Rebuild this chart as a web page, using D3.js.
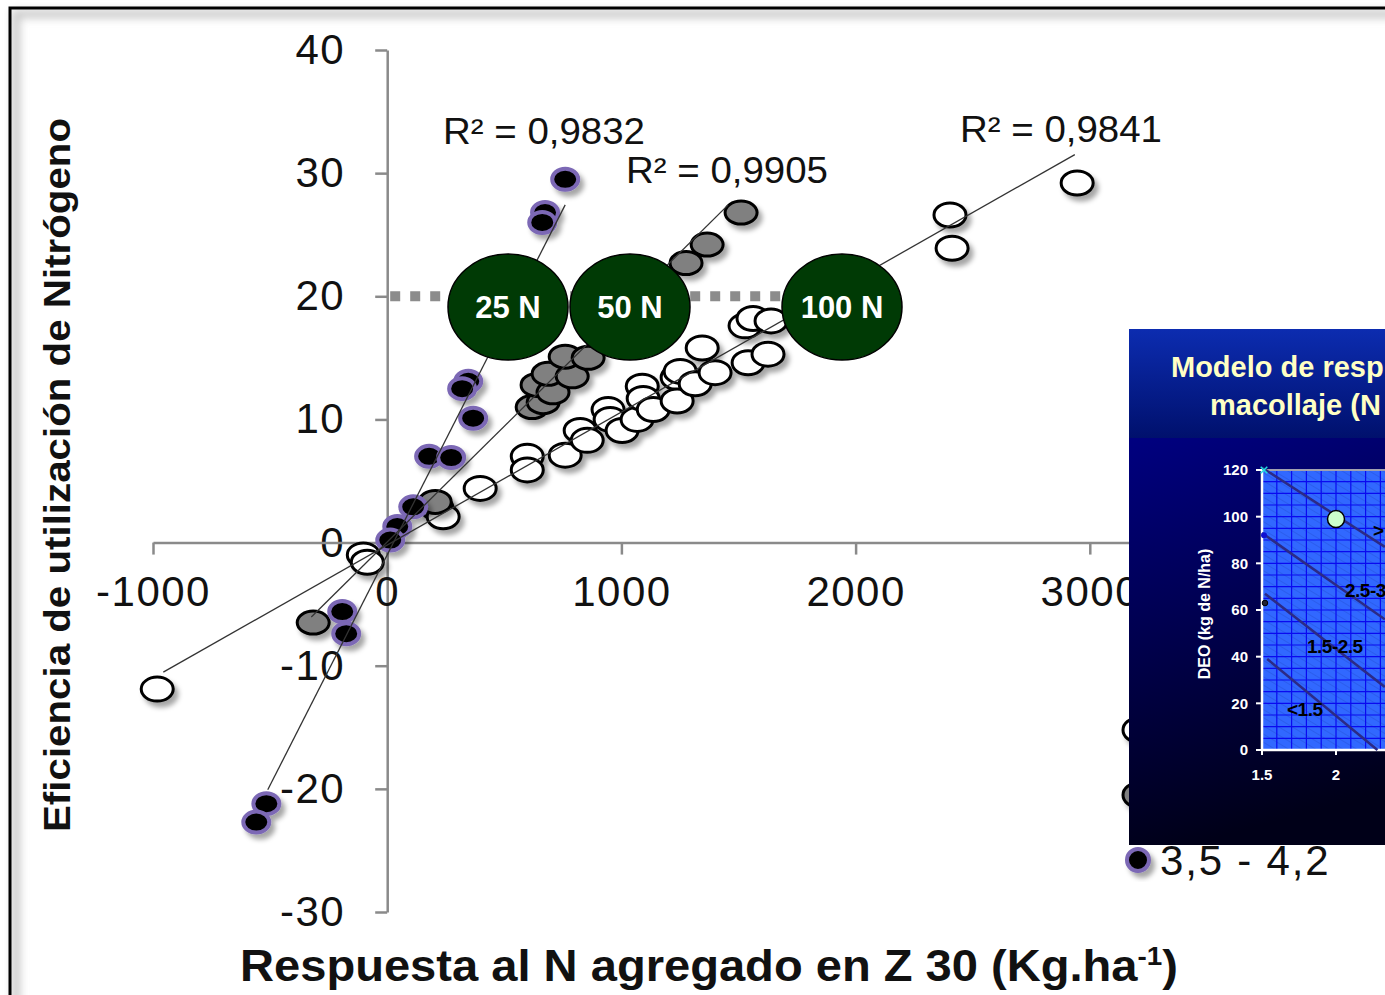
<!DOCTYPE html>
<html>
<head>
<meta charset="utf-8">
<script src="https://cdn.jsdelivr.net/npm/d3@7"></script>
<style>
  body { margin: 0; background: #fff; }
  svg { display: block; }
  text { font-family: "Liberation Sans", Arial, sans-serif; }
</style>
</head>
<body>
<svg id="chart" width="1385" height="995"></svg>
<script>
// data
const xTicks = [-1000, 0, 1000, 2000, 3000];
const yTicks = [-30, -20, -10, 0, 10, 20, 30, 40];

// white series
const whiteX = [-982, -102, -85, 213, 239, 397, 598, 598, 760, 824, 854, 943, 952, 1003, 1067, 1089, 1093, 1136,
                1238, 1251, 1238, 1315, 1345, 1400, 1541, 1626, 1528, 1562, 1639, 2403, 2412, 2946];
const whiteY = [-11.9, -1.0, -1.6, 2.8, 2.1, 4.4, 7.0, 5.9, 7.1, 9.1, 8.3, 10.8, 10.0, 9.1, 10.0, 12.7, 11.7, 10.8,
                13.4, 13.9, 11.5, 12.9, 15.8, 13.8, 14.6, 15.3, 17.6, 18.2, 18.0, 26.6, 23.9, 29.2];
// gray series
const grayX = [-316, 205, 619, 666, 640, 708, 687, 790, 760, 858, 1276, 1366, 1511];
const grayY = [-6.5, 3.3, 11.0, 11.4, 12.8, 12.2, 13.7, 13.5, 15.1, 15.0, 22.7, 24.2, 26.8];
// black series (3,5 - 4,2)
const blackX = [760, 674, 662, 346, 320, 367, 179, 273, 111, 43, 13, -192, -175, -516, -559];
const blackY = [29.5, 26.8, 26.0, 13.1, 12.5, 10.1, 7.0, 6.9, 2.9, 1.3, 0.2, -5.6, -7.4, -21.2, -22.7];

// linear trend lines: slope, intercept, x extent
const trendSlope = [0.0108, 0.0188, 0.0374];
const trendIntercept = [-0.2, 0.05, -1.0];
const trendRange = [[-956, 2936], [-324, 1455], [-510, 760]];
const r2Labels = ["R² = 0,9841", "R² = 0,9905", "R² = 0,9832"];
const doseLabels = ["25 N", "50 N", "100 N"];
const legendLabels = ["", "", "3,5 - 4,2"];

// inset: model lines
const insetXTicks = [1.5, 2];
const insetYTicks = [0, 20, 40, 60, 80, 100, 120];
const isoX = [[1.5, 2.33], [1.5, 2.33], [1.52, 2.33], [1.535, 2.28]];
const isoY = [[121, 87], [93, 56], [67, 27], [39, 0]];
const isoLabels = ["<1.5", "1.5-2.5", "2.5-3", ">"];

const svg = d3.select("#chart");
const defs = svg.append("defs");

const shadow = defs.append("filter").attr("id", "shadow")
  .attr("x", "-50%").attr("y", "-50%").attr("width", "200%").attr("height", "200%");
shadow.append("feDropShadow").attr("dx", 4).attr("dy", 5).attr("stdDeviation", 2.5)
  .attr("flood-color", "#000").attr("flood-opacity", 0.35);

const blur = defs.append("filter").attr("id", "blur")
  .attr("x", "-10%").attr("y", "-10%").attr("width", "120%").attr("height", "120%");
blur.append("feGaussianBlur").attr("stdDeviation", 4);

const hdr = defs.append("linearGradient").attr("id", "hdr").attr("x1", 0).attr("y1", 0).attr("x2", 0).attr("y2", 1);
hdr.append("stop").attr("offset", "0%").attr("stop-color", "#0c2cb0");
hdr.append("stop").attr("offset", "100%").attr("stop-color", "#00106c");
const body = defs.append("linearGradient").attr("id", "body").attr("x1", 0).attr("y1", 0).attr("x2", 0.2).attr("y2", 1);
body.append("stop").attr("offset", "0%").attr("stop-color", "#000080");
body.append("stop").attr("offset", "100%").attr("stop-color", "#000018");

const hatch = defs.append("pattern").attr("id", "hatch")
  .attr("width", 7).attr("height", 7).attr("patternUnits", "userSpaceOnUse")
  .attr("patternTransform", "rotate(-59)");
hatch.append("rect").attr("width", 7).attr("height", 7).attr("fill", "#3168ff");
hatch.append("line").attr("x1", 0).attr("y1", 0).attr("x2", 0).attr("y2", 7)
  .attr("stroke", "#2450d8").attr("stroke-width", 0.9);

// frame
svg.append("rect").attr("x", 16).attr("y", 14).attr("width", 1400).attr("height", 1000)
  .attr("fill", "none").attr("stroke", "#c8c8c8").attr("stroke-width", 8).attr("filter", "url(#blur)");
svg.append("rect").attr("x", 10).attr("y", 8).attr("width", 1400).attr("height", 1000)
  .attr("fill", "none").attr("stroke", "#000").attr("stroke-width", 3);

const x = d3.scaleLinear().domain([-1000, 4000]).range([153, 1324]);
const y = d3.scaleLinear().domain([-30, 40]).range([912, 50]);
const fmt = d => (d < 0 ? "-" : "") + Math.abs(d);

// axes
const yAxis = svg.append("g").attr("transform", `translate(${x(0)},0)`)
  .call(d3.axisLeft(y).tickValues(yTicks).tickSize(12).tickSizeOuter(0).tickPadding(30).tickFormat(fmt));
const xAxis = svg.append("g").attr("transform", `translate(0,${y(0)})`)
  .call(d3.axisBottom(x).tickValues(xTicks).tickSize(12).tickSizeOuter(0).tickPadding(22).tickFormat(fmt));
[xAxis, yAxis].forEach(g => {
  g.attr("font-size", null).attr("font-family", null);
  g.select(".domain").attr("stroke", "#8a8a8a").attr("stroke-width", 2.5);
  g.selectAll(".tick line").attr("stroke", "#8a8a8a").attr("stroke-width", 2.5);
  g.selectAll(".tick text").attr("fill", "#111").style("font-size", "42px").attr("letter-spacing", 1.5);
});

// dotted reference at 20
svg.append("line")
  .attr("x1", x(0) + 3).attr("x2", 792).attr("y1", y(20)).attr("y2", y(20))
  .attr("stroke", "#8c8c8c").attr("stroke-width", 10).attr("stroke-dasharray", "10,10");

// points
const series = [
  { xs: whiteX, ys: whiteY, fill: "#fff", stroke: "#000", sw: 3, rx: 16, ry: 12 },
  { xs: grayX, ys: grayY, fill: "#808080", stroke: "#000", sw: 3, rx: 16, ry: 11.5 },
  { xs: blackX, ys: blackY, fill: "#000", stroke: "#7b68b5", sw: 4, rx: 13, ry: 10.5 }
];
series.forEach(s => {
  svg.append("g").attr("filter", "url(#shadow)")
    .selectAll("ellipse")
    .data(s.xs.map((v, i) => [v, s.ys[i]]))
    .enter().append("ellipse")
      .attr("cx", d => x(d[0]))
      .attr("cy", d => y(d[1]))
      .attr("rx", s.rx).attr("ry", s.ry)
      .attr("fill", s.fill)
      .attr("stroke", s.stroke).attr("stroke-width", s.sw);
});

// trend lines
trendSlope.forEach((m, i) => {
  const [a, b] = trendRange[i];
  svg.append("line")
    .attr("x1", x(a)).attr("y1", y(m * a + trendIntercept[i]))
    .attr("x2", x(b)).attr("y2", y(m * b + trendIntercept[i]))
    .attr("stroke", "#333").attr("stroke-width", 1.3);
});

// R² labels
const r2Pos = [[960, 142], [626, 183], [443, 144]];
r2Labels.forEach((t, i) => {
  svg.append("text").attr("x", r2Pos[i][0]).attr("y", r2Pos[i][1])
    .attr("font-size", 36).attr("fill", "#111")
    .attr("textLength", 202).attr("lengthAdjust", "spacingAndGlyphs")
    .text(t);
});

// dose ellipses
const dosePos = [[508, 307], [630, 307], [842, 307]];
doseLabels.forEach((t, i) => {
  const g = svg.append("g").attr("transform", `translate(${dosePos[i][0]},${dosePos[i][1]})`);
  g.append("ellipse").attr("rx", 60).attr("ry", 53)
    .attr("fill", "#003a05").attr("stroke", "#000").attr("stroke-width", 1.5);
  g.append("text").attr("text-anchor", "middle").attr("dy", "0.36em")
    .attr("font-size", 31).attr("font-weight", "bold").attr("fill", "#fff")
    .text(t);
});

// axis titles
svg.append("text")
  .attr("transform", "translate(70,475) rotate(-90)")
  .attr("text-anchor", "middle")
  .attr("font-size", 36).attr("font-weight", "bold").attr("fill", "#111")
  .attr("textLength", 714).attr("lengthAdjust", "spacingAndGlyphs")
  .text("Eficiencia de utilización de Nitrógeno");

const xt = svg.append("text")
  .attr("x", 240).attr("y", 981)
  .attr("font-size", 44).attr("font-weight", "bold").attr("fill", "#111")
  .style("font-family", "'Liberation Sans Narrow', 'Liberation Sans', Arial, sans-serif")
  .attr("textLength", 938).attr("lengthAdjust", "spacingAndGlyphs");
xt.append("tspan").text("Respuesta al N agregado en Z 30 (Kg.ha");
xt.append("tspan").attr("dy", -16).attr("font-size", 26).text("-1");
xt.append("tspan").attr("dy", 16).text(")");

// legend (mostly behind the inset)
const legY = [730, 795, 860];
series.forEach((s, i) => {
  svg.append("ellipse").attr("cx", 1138).attr("cy", legY[i])
    .attr("rx", i === 2 ? 11 : 15).attr("ry", i === 2 ? 11 : 12)
    .attr("fill", s.fill).attr("stroke", s.stroke).attr("stroke-width", s.sw)
    .attr("filter", "url(#shadow)");
  if (legendLabels[i]) {
    svg.append("text").attr("x", 1160).attr("y", legY[i] + 15)
      .attr("font-size", 42).attr("fill", "#111").attr("letter-spacing", 1.8)
      .text(legendLabels[i]);
  }
});

// inset panel
const inset = svg.append("g");
inset.append("rect").attr("x", 1129).attr("y", 329).attr("width", 300).attr("height", 110).attr("fill", "url(#hdr)");
inset.append("rect").attr("x", 1129).attr("y", 438).attr("width", 300).attr("height", 407).attr("fill", "url(#body)");
inset.append("text").attr("x", 1171).attr("y", 377)
  .attr("font-size", 29).attr("font-weight", "bold").attr("fill", "#ffffc4").text("Modelo de resp");
inset.append("text").attr("x", 1210).attr("y", 415)
  .attr("font-size", 29).attr("font-weight", "bold").attr("fill", "#ffffc4").text("macollaje (N");

const ix = d3.scaleLinear().domain([1.5, 2]).range([1262, 1336]);
const iy = d3.scaleLinear().domain([0, 120]).range([750, 470]);

inset.append("rect").attr("x", ix(1.5)).attr("y", iy(120))
  .attr("width", 1400 - ix(1.5)).attr("height", iy(0) - iy(120)).attr("fill", "url(#hatch)");
const gridG = inset.append("g").attr("stroke", "#0a0af0").attr("stroke-width", 1.2);
d3.range(0, 11).map(i => 1.5 + i * 0.1).forEach(v => {
  gridG.append("line").attr("x1", ix(v)).attr("x2", ix(v)).attr("y1", iy(0)).attr("y2", iy(120));
});
d3.range(0, 25).map(i => i * 5).forEach(v => {
  gridG.append("line").attr("x1", ix(1.5)).attr("x2", 1400).attr("y1", iy(v)).attr("y2", iy(v));
});
inset.append("line").attr("x1", ix(1.5)).attr("x2", 1400).attr("y1", iy(120)).attr("y2", iy(120))
  .attr("stroke", "#a0a0b0").attr("stroke-width", 2);

// inset axes
inset.append("line").attr("x1", ix(1.5)).attr("x2", ix(1.5)).attr("y1", iy(120)).attr("y2", iy(0))
  .attr("stroke", "#fff").attr("stroke-width", 2.5);
inset.append("line").attr("x1", ix(1.5)).attr("x2", 1400).attr("y1", iy(0)).attr("y2", iy(0))
  .attr("stroke", "#fff").attr("stroke-width", 2.5);
insetYTicks.forEach(v => {
  inset.append("line").attr("x1", ix(1.5) - 6).attr("x2", ix(1.5)).attr("y1", iy(v)).attr("y2", iy(v))
    .attr("stroke", "#fff").attr("stroke-width", 2);
  inset.append("text").attr("x", 1248).attr("y", iy(v)).attr("dy", "0.35em")
    .attr("text-anchor", "end").attr("font-size", 15).attr("font-weight", "bold").attr("fill", "#fff")
    .text(v);
});
insetXTicks.forEach(v => {
  inset.append("line").attr("x1", ix(v)).attr("x2", ix(v)).attr("y1", iy(0)).attr("y2", iy(0) + 5)
    .attr("stroke", "#fff").attr("stroke-width", 2);
  inset.append("text").attr("x", ix(v)).attr("y", 780)
    .attr("text-anchor", "middle").attr("font-size", 15).attr("font-weight", "bold").attr("fill", "#fff")
    .text(v);
});
inset.append("text").attr("transform", "translate(1210,614) rotate(-90)")
  .attr("text-anchor", "middle").attr("font-size", 16).attr("font-weight", "bold").attr("fill", "#fff")
  .text("DEO (kg de N/ha)");

// inset model lines
isoX.forEach((xs, i) => {
  inset.append("line")
    .attr("x1", ix(xs[0])).attr("y1", iy(isoY[i][0]))
    .attr("x2", ix(xs[1])).attr("y2", iy(isoY[i][1]))
    .attr("stroke", "#2c2a86").attr("stroke-width", 2.5);
});
const isoLabPos = [[1287, 716], [1307, 653], [1345, 597], [1373, 537]];
isoLabels.forEach((t, i) => {
  inset.append("text").attr("x", isoLabPos[i][0]).attr("y", isoLabPos[i][1])
    .attr("font-size", 19).attr("font-weight", "bold").attr("fill", "#000")
    .attr("letter-spacing", -0.5).text(t);
});
// inset markers
inset.append("path").attr("d", d3.symbol(d3.symbolCross2 || d3.symbolX, 30)())
  .attr("transform", `translate(${ix(1.5) + 2},${iy(120)})`)
  .attr("stroke", "#20e0e0").attr("stroke-width", 1.5).attr("fill", "none");
inset.append("circle").attr("cx", ix(1.5) + 2).attr("cy", iy(92)).attr("r", 3).attr("fill", "#1010d0");
inset.append("circle").attr("cx", ix(1.52)).attr("cy", iy(63)).attr("r", 2.8)
  .attr("fill", "#223").attr("stroke", "#000").attr("stroke-width", 1);
inset.append("circle").attr("cx", ix(2)).attr("cy", iy(99)).attr("r", 8.5)
  .attr("fill", "#ccffcc").attr("stroke", "#000").attr("stroke-width", 1.5);
</script>
</body>
</html>
